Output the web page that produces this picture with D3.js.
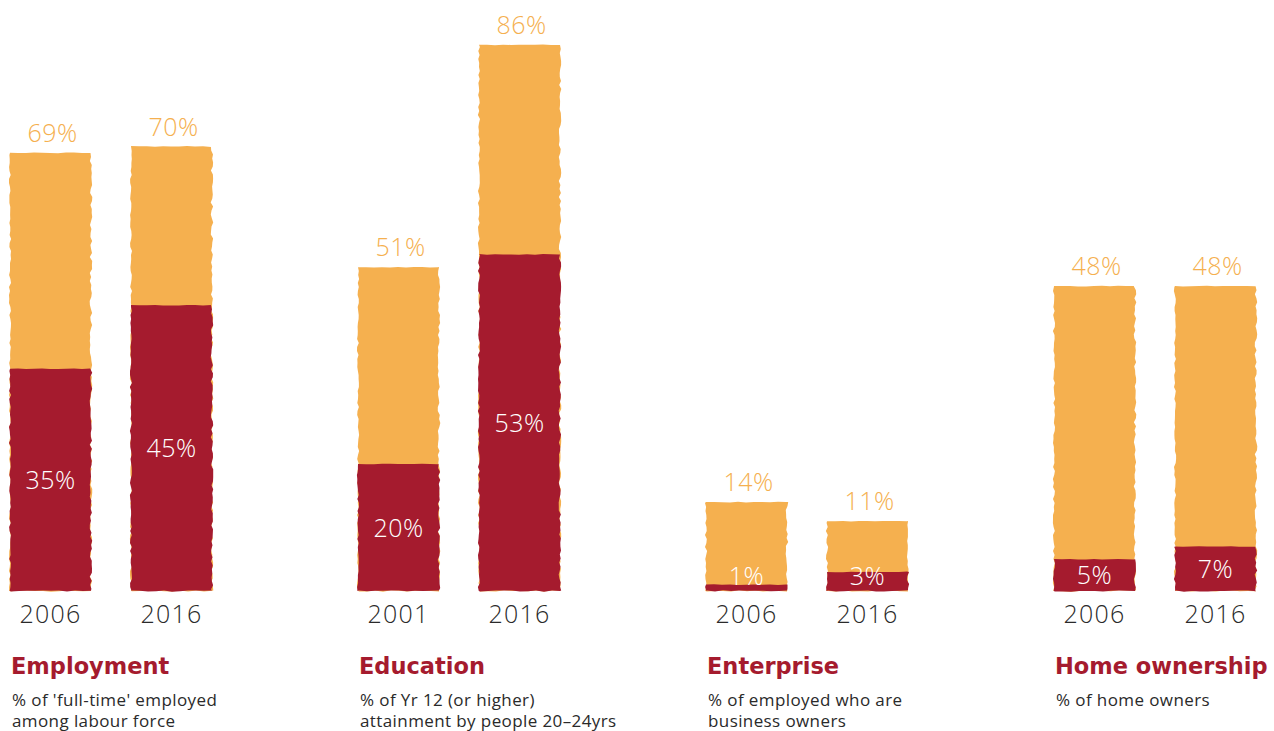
<!DOCTYPE html>
<html>
<head>
<meta charset="utf-8">
<script src="https://cdn.jsdelivr.net/npm/d3@7/dist/d3.min.js"></script>
<style>
  html, body { margin: 0; padding: 0; background: #fff; }
  svg { display: block; }
  text { font-family: "Open Sans", "DejaVu Sans", sans-serif; }
  .num { font-weight: 300; }
  .title { font-family: "DejaVu Sans", sans-serif; font-weight: bold; }
  .sub { font-weight: 400; }
</style>
</head>
<body>
<svg id="chart" width="1274" height="731"></svg>
<script>
// Indicator groups and their two time points
const groups = ["Employment", "Education", "Enterprise", "Home ownership"];
const subtitles = [
  ["% of 'full-time' employed", "among labour force"],
  ["% of Yr 12 (or higher)", "attainment by people 20\u201324yrs"],
  ["% of employed who are", "business owners"],
  ["% of home owners"]
];
const years = [["2006", "2016"], ["2001", "2016"], ["2006", "2016"], ["2006", "2016"]];
// Total (orange) and highlighted subgroup (red) percentages
const totalValues = [[69, 70], [51, 86], [14, 11], [48, 48]];
const subValues = [[35, 45], [20, 53], [1, 3], [5, 7]];

const ORANGE = "#F5B04F";
const RED = "#A51B2E";
const DARK = "#2a2a2a";

const svg = d3.select("#chart");

const baseline = 591;
const y = d3.scaleLinear().domain([0, 100]).range([baseline, baseline - 635]);
const gx = d3.scaleLinear().domain([0, 3]).range([10, 1054]);
const inner = d3.scalePoint().domain([0, 1]).range([0, 121]);
const bw = 81;

// deterministic wobble for the brush-stroke edges
function wob(seed, i) {
  const s = Math.sin(seed * 127.1 + i * 311.7) * 43758.5453;
  return (s - Math.floor(s)) - 0.5;
}

// Rough-edged rectangle path: sides are ragged, top and bottom only slightly
function roughRect(x0, y0, x1, y1, seed) {
  const pts = [];
  for (let x = x0; x <= x1; x += 8) pts.push([x, y0 + wob(seed, x) * 0.8]);
  for (let yy = y0; yy <= y1; yy += 4) pts.push([x1 + wob(seed + 1, yy) * 2.6, yy]);
  for (let x = x1; x >= x0; x -= 8) pts.push([x, y1 + wob(seed + 2, x) * 1.4]);
  for (let yy = y1; yy >= y0; yy -= 4) pts.push([x0 + wob(seed + 3, yy) * 2.2, yy]);
  return "M" + pts.map(p => p[0].toFixed(1) + "," + p[1].toFixed(1)).join("L") + "Z";
}

groups.forEach((g, gi) => {
  const G = svg.append("g").attr("transform", `translate(${gx(gi)},0)`);

  [0, 1].forEach(bi => {
    const x0 = inner(bi);
    const tot = totalValues[gi][bi];
    const sub = subValues[gi][bi];
    const cx = x0 + bw / 2;

    G.append("path")
      .attr("d", roughRect(x0, y(tot), x0 + bw, baseline, gi * 10 + bi * 3 + 1))
      .attr("fill", ORANGE);
    G.append("path")
      .attr("d", roughRect(x0, y(sub), x0 + bw, baseline, gi * 10 + bi * 3 + 7))
      .attr("fill", RED);

    G.append("text")
      .attr("class", "num")
      .attr("x", cx + 2).attr("y", y(tot) - 11)
      .attr("text-anchor", "middle")
      .attr("font-size", 25)
      .attr("letter-spacing", 0.5)
      .attr("fill", ORANGE)
      .text(tot + "%");

    const mid = Math.min((y(sub) + baseline) / 2, baseline - 15);
    G.append("text")
      .attr("class", "num")
      .attr("x", cx).attr("y", mid)
      .attr("dy", "0.36em")
      .attr("text-anchor", "middle")
      .attr("font-size", 25)
      .attr("letter-spacing", 0.5)
      .attr("fill", "#fff")
      .text(sub + "%");

    G.append("text")
      .attr("class", "num")
      .attr("x", cx).attr("y", 623)
      .attr("text-anchor", "middle")
      .attr("font-size", 25)
      .attr("letter-spacing", 1.2)
      .attr("fill", DARK)
      .text(years[gi][bi]);
  });

  G.append("text")
    .attr("class", "title")
    .attr("x", 1).attr("y", 674)
    .attr("font-size", 22.5)
    .attr("fill", RED)
    .text(g);

  subtitles[gi].forEach((line, li) => {
    G.append("text")
      .attr("class", "sub")
      .attr("x", 2).attr("y", 706 + li * 21)
      .attr("font-size", 17)
      .attr("letter-spacing", 0.4)
      .attr("fill", DARK)
      .text(line);
  });
});
</script>
</body>
</html>
